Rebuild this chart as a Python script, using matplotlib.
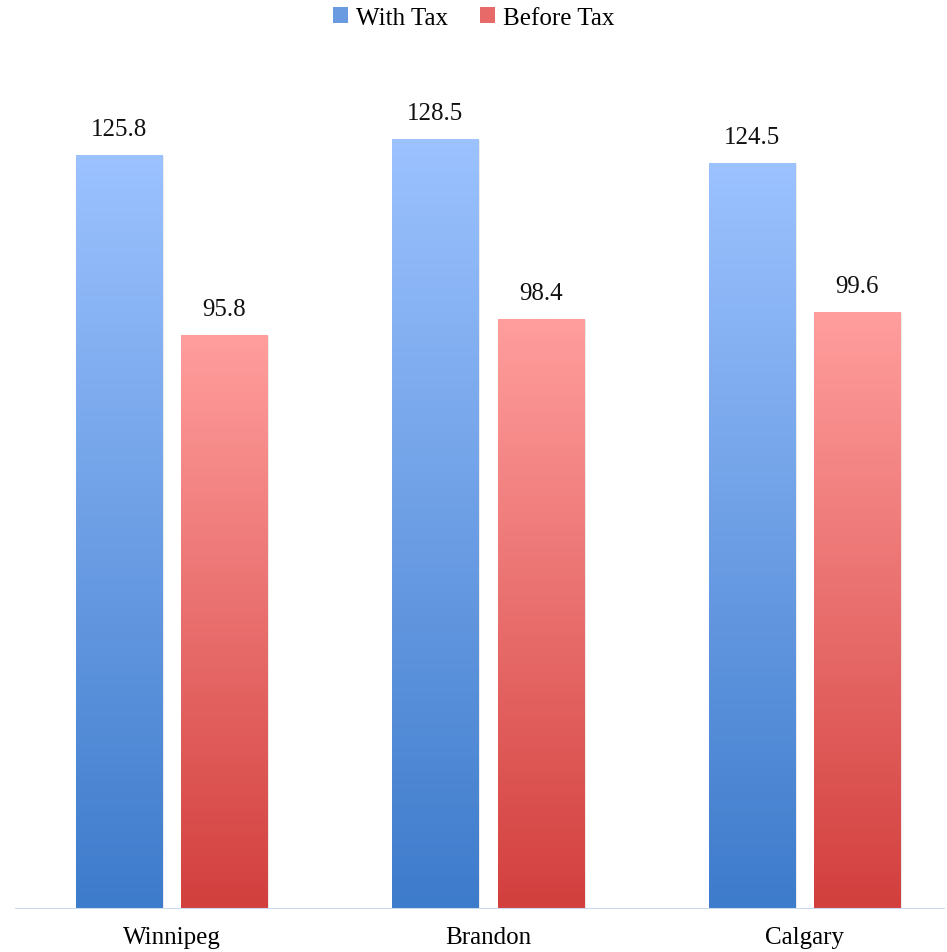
import numpy as np
import matplotlib.pyplot as plt
from matplotlib.colors import LinearSegmentedColormap
from matplotlib.patches import Patch

cities = ["Winnipeg", "Brandon", "Calgary"]
with_tax = [125.8, 128.5, 124.5]
before_tax = [95.8, 98.4, 99.6]
series = ["With Tax", "Before Tax"]

plt.rcParams["font.family"] = ["Liberation Serif", "DejaVu Serif"]

blue = LinearSegmentedColormap.from_list("b", ["#3D7BCB", "#9CC2FF"])
red = LinearSegmentedColormap.from_list("r", ["#D23F3D", "#FF9E9D"])

fig = plt.figure(figsize=(9.47, 9.53), dpi=100)
ax = fig.add_axes([15 / 947, 43 / 953, 930 / 947, (908 - 40) / 953])

x = np.arange(len(cities))
w = 0.272
off = 0.1665
grad = np.linspace(0, 1, 256).reshape(-1, 1)

for vals, cm, dx in [(with_tax, blue, -off), (before_tax, red, off)]:
    for xi, v in zip(x, vals):
        # soft shadow
        ax.bar(xi + dx + 0.006, v, w, color="#000000", alpha=0.08, zorder=1)
        ax.imshow(grad, cmap=cm, origin="lower", aspect="auto",
                  extent=[xi + dx - w / 2, xi + dx + w / 2, 0, v], zorder=2)
        ax.text(xi + dx, v + 2.6, f"{v:.1f}", ha="center", va="bottom", fontsize=18, color="#111111")

ax.set_xlim(-0.4945, 2.444)
ax.set_ylim(0, 145)
ax.axhline(0, color="#C9D9EE", lw=1.5, zorder=3)
for sp in ax.spines.values():
    sp.set_visible(False)
ax.set_yticks([])
ax.set_xticks(x)
ax.set_xticklabels(cities, fontsize=18)
ax.tick_params(axis="x", length=0, pad=12)

handles = [Patch(facecolor="#6A9BE0", label=series[0]), Patch(facecolor="#E86A68", label=series[1])]
fig.legend(handles=handles, loc="center", bbox_to_anchor=(0.5, 1 - 19 / 953), ncol=2, frameon=False,
           fontsize=18, handlelength=0.6, handleheight=0.6, handletextpad=0.3, columnspacing=1.3)

fig.savefig("out.png", dpi=100)
